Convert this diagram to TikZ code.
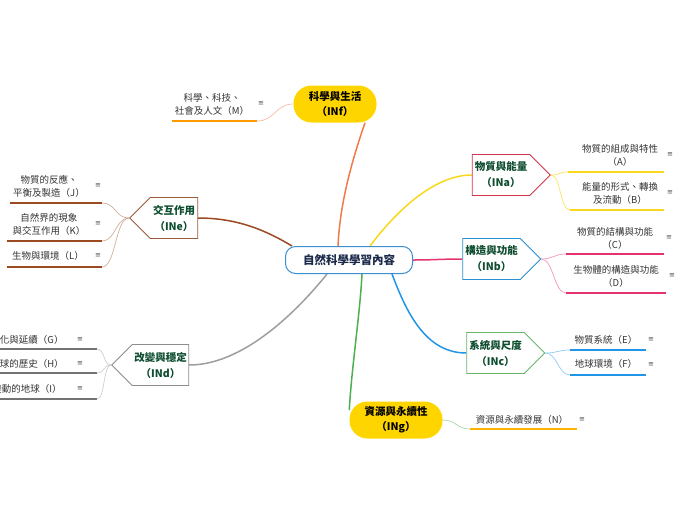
\documentclass[tikz,border=0pt]{standalone}
\usepackage{fontspec}
\setmainfont{Noto Sans CJK TC}
\newfontfamily\symfont{DejaVu Sans}
\usepackage{tikz}
\usetikzlibrary{shapes.symbols,backgrounds,calc}

\definecolor{rootblue}{HTML}{3A8FD0}
\definecolor{rootnavy}{HTML}{1B2A4A}
\definecolor{topicgreen}{HTML}{0E4D2F}
\definecolor{gold}{HTML}{FFD500}
\definecolor{fcol}{HTML}{F07A4A}
\definecolor{ecol}{HTML}{9C4A22}
\definecolor{dcol}{HTML}{9E9E9E}
\definecolor{acol}{HTML}{F9D71C}
\definecolor{bcol}{HTML}{E5336D}
\definecolor{ccol}{HTML}{2196E8}
\definecolor{gcol}{HTML}{4CAF50}
\definecolor{aedge}{HTML}{D0344A}
\definecolor{bedge}{HTML}{2A8FD0}
\definecolor{cedge}{HTML}{6AB36A}
\definecolor{eedge}{HTML}{9C5A3C}
\definecolor{dedge}{HTML}{8C8C8C}

\begin{document}
\begin{tikzpicture}[
        x=1pt, y=-1pt,
        every node/.style={inner sep=0pt, text=black!80},
        root/.style={draw=rootblue, line width=1pt, rounded corners=10pt, fill=white,
            minimum width=127pt, minimum height=27pt, text=rootnavy,
            font=\fontsize{11.5}{13}\selectfont\bfseries},
        pill/.style={fill=gold, rounded corners=18pt, minimum width=#1, minimum height=37pt,
            align=center, text=black, font=\fontsize{10.5}{15}\selectfont\bfseries},
        topic/.style={signal, signal to=#1, signal pointer angle=90, fill=white,
            line width=0.9pt, minimum width=78pt, minimum height=41pt, align=center,
            text=topicgreen, font=\fontsize{10.5}{16}\selectfont\bfseries},
        leaf/.style={align=center, font=\fontsize{9.5}{13}\selectfont},
        menu/.style={font=\symfont\fontsize{7}{7}\selectfont, text=black!70},
        branch/.style={draw=#1, line width=1.5pt},
        twig/.style={draw=#1, line width=0.7pt},
        ul/.style={draw=#1, line width=1.6pt}
    ]
    \useasboundingbox (0,0) rectangle (696,520);

    %================================================
    % Centre and main topics
    %================================================
    \node[root] (root) at (349,260) {自然科學學習內容};

    \node[pill=83pt] (INf) at (335,104) {科學與生活\\（INf）};
    \node[pill=93pt] (INg) at (396,420) {資源與永續性\\（INg）};

    \node[topic=east, draw=aedge] (INa) at (501,175) {物質與能量\\（INa）};
    \node[topic=east, draw=bedge] (INb) at (491.5,259) {構造與功能\\（INb）};
    \node[topic=east, draw=cedge] (INc) at (495.5,353) {系統與尺度\\（INc）};
    \node[topic=west, draw=eedge, minimum width=68pt] (INe) at (174,218) {交互作用\\（INe）};
    \node[topic=west, draw=dedge, minimum width=77pt] (INd) at (160.5,365) {改變與穩定\\（INd）};

    %================================================
    % INf: M
    %================================================
    \node[leaf] (M) at (212,104) {科學、科技、\\社會及人文（M）};
    \node[menu] (M-m) at (261,104) {≡};
    \coordinate (M-s) at (172,121);
    \coordinate (M-e) at (257,121);

    %================================================
    % INe: J, K, L
    %================================================
    \node[leaf] (J) at (49,186) {物質的反應、\\平衡及製造（J）};
    \node[menu] (J-m) at (98,186) {≡};
    \coordinate (J-s) at (10,203);
    \coordinate (J-e) at (102,203);

    \node[leaf] (K) at (49,224) {自然界的現象\\與交互作用（K）};
    \node[menu] (K-m) at (98,224) {≡};
    \coordinate (K-s) at (7,241);
    \coordinate (K-e) at (102,241);

    \node[leaf] (L) at (48,256) {生物與環境（L）};
    \node[menu] (L-m) at (98,256) {≡};
    \coordinate (L-s) at (7,267);
    \coordinate (L-e) at (102,267);

    %================================================
    % INd: G, H, I (cut by the left edge)
    %================================================
    \node[leaf] (G) at (27,340) {演化與延續（G）};
    \node[menu] (G-m) at (80,340) {≡};
    \coordinate (G-s) at (-20,349);
    \coordinate (G-e) at (97,349);

    \node[leaf] (H) at (27,364) {地球的歷史（H）};
    \node[menu] (H-m) at (80,364) {≡};
    \coordinate (H-s) at (-20,373);
    \coordinate (H-e) at (97,373);

    \node[leaf] (I) at (27,389) {變動的地球（I）};
    \node[menu] (I-m) at (80,389) {≡};
    \coordinate (I-s) at (-20,399);
    \coordinate (I-e) at (97,399);

    %================================================
    % INa: A, B
    %================================================
    \node[leaf] (A) at (620,155) {物質的組成與特性\\（A）};
    \node[menu] (A-m) at (670,155) {≡};
    \coordinate (A-s) at (568,172);
    \coordinate (A-e) at (664,172);

    \node[leaf] (B) at (620,193) {能量的形式、轉換\\及流動（B）};
    \node[menu] (B-m) at (670,193) {≡};
    \coordinate (B-s) at (570,210);
    \coordinate (B-e) at (664,210);

    %================================================
    % INb: C, D
    %================================================
    \node[leaf] (C) at (615,238) {物質的結構與功能\\（C）};
    \node[menu] (C-m) at (669,238) {≡};
    \coordinate (C-s) at (566,254);
    \coordinate (C-e) at (664,254);

    \node[leaf] (D) at (616,276) {生物體的構造與功能\\（D）};
    \node[menu] (D-m) at (672,276) {≡};
    \coordinate (D-s) at (566,293);
    \coordinate (D-e) at (666,293);

    %================================================
    % INc: E, F
    %================================================
    \node[leaf] (E) at (606,340) {物質系統（E）};
    \node[menu] (E-m) at (651,340) {≡};
    \coordinate (E-s) at (570,350);
    \coordinate (E-e) at (646,350);

    \node[leaf] (F) at (606,364) {地球環境（F）};
    \node[menu] (F-m) at (651,365) {≡};
    \coordinate (F-s) at (570,375);
    \coordinate (F-e) at (646,375);

    %================================================
    % INg: N
    %================================================
    \node[leaf] (N) at (522,420) {資源與永續發展（N）};
    \node[menu] (N-m) at (582,420) {≡};
    \coordinate (N-s) at (470,429);
    \coordinate (N-e) at (577,429);

    \begin{scope}[on background layer]
        % centre to topics
        \draw[branch=fcol] ([xshift=-11pt]root.north) .. controls +(2,-45) and +(-12,35) .. ([xshift=30pt]INf.south);
        \draw[branch=ecol] ([xshift=7pt]root.north west) .. controls +(-25,-15) and +(40,0) .. (INe.east);
        \draw[branch=dcol] ([xshift=-22pt]root.south) .. controls +(-20,25) and +(60,0) .. (INd.east);
        \draw[branch=acol] ([xshift=21pt]root.north) .. controls +(15,-20) and +(-45,0) .. (INa.west);
        \draw[branch=bcol] (root.east) .. controls +(20,0) and +(-20,0) .. (INb.west);
        \draw[branch=ccol] ([xshift=43pt]root.south) .. controls +(15,40) and +(-40,0) .. (INc.west);
        \draw[branch=gcol] ([xshift=13pt]root.south) .. controls +(-2,40) and +(2,-40) .. (INg.168);

        % topics to leaves
        \draw[twig=fcol!50] (INf.west) .. controls +(-18,0) and +(18,0) .. (M-e);
        \foreach \n in {J,K,L}
            \draw[twig=ecol!45] (INe.west) .. controls +(-14,0) and +(14,0) .. (\n-e);
        \foreach \n in {G,H,I}
            \draw[twig=dcol!50] (INd.west) .. controls +(-8,0) and +(8,0) .. (\n-e);
        \foreach \n in {A,B}
            \draw[twig=acol!70] (INa.east) .. controls +(10,0) and +(-10,0) .. (\n-s);
        \foreach \n in {C,D}
            \draw[twig=bcol!50] (INb.east) .. controls +(12,0) and +(-12,0) .. (\n-s);
        \foreach \n in {E,F}
            \draw[twig=ccol!50] (INc.east) .. controls +(12,0) and +(-12,0) .. (\n-s);
        \draw[twig=gcol!50] (INg.east) .. controls +(14,0) and +(-14,0) .. (N-s);
    \end{scope}

    % underlines
    \draw[ul=orange!80!yellow] (M-s) -- (M-e);
    \foreach \n in {J,K,L}
        \draw[ul=ecol] (\n-s) -- (\n-e);
    \foreach \n in {G,H,I}
        \draw[ul=black!55] (\n-s) -- (\n-e);
    \foreach \n in {A,B}
        \draw[ul=acol] (\n-s) -- (\n-e);
    \foreach \n in {C,D}
        \draw[ul=bcol] (\n-s) -- (\n-e);
    \foreach \n in {E,F}
        \draw[ul=ccol] (\n-s) -- (\n-e);
    \draw[ul=orange!60!yellow] (N-s) -- (N-e);

\end{tikzpicture}
\end{document}
